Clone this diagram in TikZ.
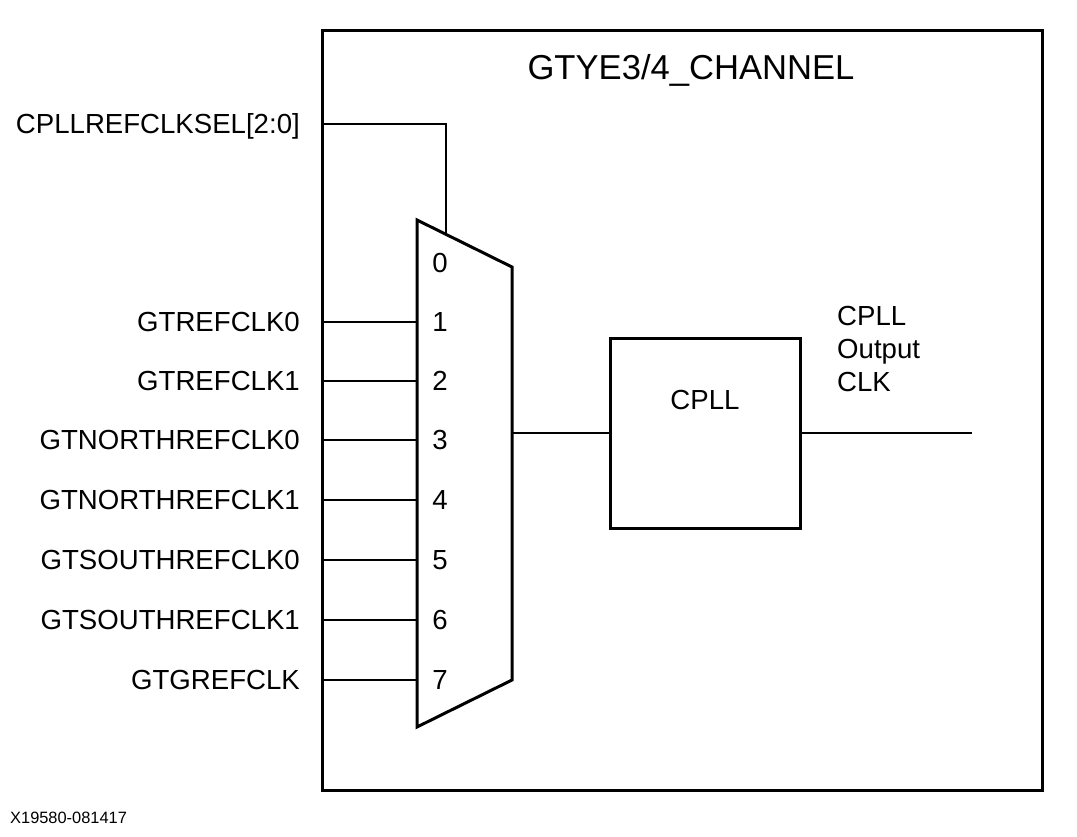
\documentclass[tikz,border=0pt]{standalone}
\usepackage{fontspec}
\setmainfont{Liberation Sans}
\usetikzlibrary{calc}
\tikzset{block/.style={draw,line width=3pt,line join=miter},
         wire/.style={draw,line width=1.3pt},
         sig/.style={inner sep=0pt,font=\fontsize{27.6}{33}\selectfont,
                     text height=19.8pt,text depth=0pt},
         title/.style={inner sep=0pt,font=\fontsize{34.6}{40}\selectfont},
         foot/.style={inner sep=0pt,font=\fontsize{16.4}{18}\selectfont}}

\begin{document}
\begin{tikzpicture}[x=1pt,y=-1pt]
\useasboundingbox (0,0) rectangle (1077,836);
\draw[block] (322,30) rectangle (1042,790);
\node[title] (chan) at (691,70) {GTYE3/4\_CHANNEL};
% mux
\coordinate (m1) at (417,220);
\coordinate (m2) at (512,267);
\coordinate (m3) at (512,680);
\coordinate (m4) at (417,727);
\draw[block] (m1) -- (m2) -- (m3) -- (m4) -- cycle;
\node[sig] (num0) at (440,263) {0};
\coordinate (selin) at (322,124);
\coordinate (seltop) at ($(m1)!0.305!(m2)$);
\node[sig,anchor=east] (sel) at (300,124) {CPLLREFCLKSEL[2:0]};
\draw[wire] (selin) -| (seltop);
\foreach \n/\y/\t in {1/322/GTREFCLK0,2/381/GTREFCLK1,3/440/GTNORTHREFCLK0,
                      4/500/GTNORTHREFCLK1,5/560/GTSOUTHREFCLK0,
                      6/620/GTSOUTHREFCLK1,7/680/GTGREFCLK}{
  \coordinate (in\n) at (322,\y);
  \coordinate (mx\n) at (417,\y);
  \node[sig,anchor=east] (lbl\n) at (300,\y) {\t};
  \node[sig] (num\n) at (440,\y) {\n};
  \draw[wire] (in\n) -- (mx\n);
}
% pll
\node[block,minimum width=190pt,minimum height=190pt] (cpll) at (705,433) {};
\node[sig] (cplllbl) at (705,400) {CPLL};
\coordinate (mxout) at (512,433);
\coordinate (clkout) at (972,433);
\draw[wire] (mxout) -- (cpll.west);
\draw[wire] (cpll.east) -- (clkout);
\node[sig,text height=,align=left,anchor=north west] (outlbl) at (837,306) {CPLL\\Output\\CLK};
\node[foot,anchor=west] (fig) at (10,818) {X19580-081417};
\end{tikzpicture}
\end{document}
